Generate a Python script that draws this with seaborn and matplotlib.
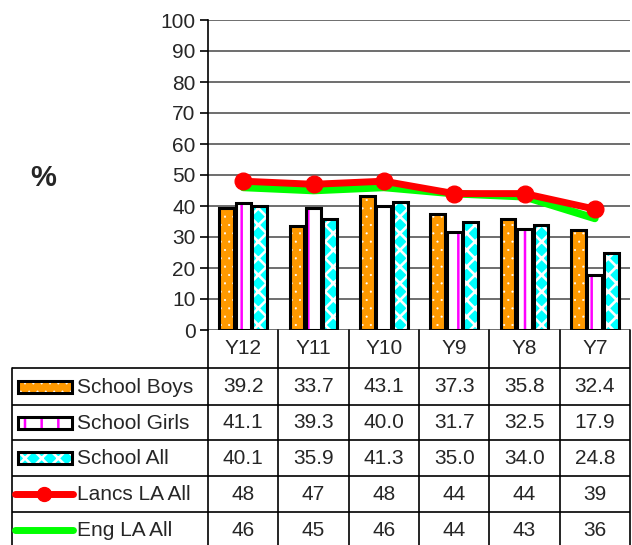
import numpy as np
import pandas as pd
import matplotlib
matplotlib.use("Agg")
import matplotlib.pyplot as plt
from matplotlib.patches import Rectangle
from matplotlib.lines import Line2D
import seaborn as sns

# Data
years = ["Y12", "Y11", "Y10", "Y9", "Y8", "Y7"]
school_boys = [39.2, 33.7, 43.1, 37.3, 35.8, 32.4]
school_girls = [41.1, 39.3, 40.0, 31.7, 32.5, 17.9]
school_all = [40.1, 35.9, 41.3, 35.0, 34.0, 24.8]
lancs_la_all = [48, 47, 48, 44, 44, 39]
eng_la_all = [46, 45, 46, 44, 43, 36]

bar_names = ["School Boys", "School Girls", "School All"]
line_names = ["Lancs LA All", "Eng LA All"]

sns.set_style("white")
plt.rcParams["font.family"] = ["Liberation Sans", "DejaVu Sans"]
plt.rcParams["hatch.linewidth"] = 1.5

# long-form table for seaborn
df = pd.DataFrame({
    "year": years * 3,
    "series": np.repeat(bar_names, len(years)),
    "value": school_boys + school_girls + school_all,
})

face = {"School Boys": "#FF9900", "School Girls": "#FFFFFF", "School All": "#00FFFF"}
hatch_col = {"School Boys": "#FFFFFF", "School Girls": "#FF00FF", "School All": "#FFFFFF"}
hatches = {"School Boys": "..", "School Girls": "|", "School All": "xx"}
hatch_lw = {"School Boys": 0.3, "School Girls": 1.8, "School All": 1.9}


def style_hatch(p, name):
    p.set_hatch(hatches[name])
    p.set_edgecolor(hatch_col[name])
    if hasattr(p, "set_hatch_linewidth"):
        p.set_hatch_linewidth(hatch_lw[name])


W, H = 632, 545
fig = plt.figure(figsize=(W / 100, H / 100), dpi=100)

# main chart area (pixel box 208..630 x 20..330)
ax = fig.add_axes([208 / W, (H - 330) / H, 422 / W, 310 / H])
sns.barplot(data=df, x="year", y="value", hue="series", order=years,
            hue_order=bar_names, palette=[face[n] for n in bar_names],
            saturation=1, width=0.7, gap=0.1, linewidth=0, legend=False, ax=ax)

n = len(years)
for i, name in enumerate(bar_names):
    for p in ax.patches[i * n:(i + 1) * n]:
        style_hatch(p, name)
        ax.add_patch(Rectangle(p.get_xy(), p.get_width(), p.get_height(),
                               fill=False, edgecolor="black", lw=2.2, zorder=3))

x = np.arange(n)
ax.plot(x, eng_la_all, color="#00FF00", lw=5.5, zorder=4, solid_capstyle="round")
ax.plot(x, lancs_la_all, color="#FF0000", lw=5, marker="o", ms=12, zorder=5,
        solid_capstyle="round")

ax.set_xlim(-0.5, n - 0.5)
ax.set_ylim(0, 100)
ax.set_yticks(range(0, 101, 10))
ax.yaxis.grid(True, color="#555555", lw=1.2)
ax.set_axisbelow(True)
ax.set_xticks([])
ax.set_xlabel("")
ax.set_ylabel("")
for s in ["top", "right", "bottom"]:
    ax.spines[s].set_visible(False)
ax.spines["left"].set_color("black")
ax.spines["left"].set_linewidth(1.2)
ax.tick_params(axis="y", labelsize=15, length=6, width=1.2, color="black",
               left=True, pad=3)

fig.text(43 / W, 1 - 178 / H, "%", fontsize=21, fontweight="bold",
         ha="center", va="center")

# data table under the chart, same x scale as the categories
unit = 422 / n
x_left = -0.5 - (208 - 12) / unit
tb = fig.add_axes([12 / W, 0, 618 / W, (H - 330) / H])
tb.set_xlim(x_left, n - 0.5)
tb.set_ylim(H, 330)
tb.axis("off")

row_edges = [330, 368, 405, 440, 476, 512, 548]
for k in range(n + 1):
    tb.plot([k - 0.5, k - 0.5], [330, 548], color="black", lw=1.2, clip_on=False)
tb.plot([x_left, x_left], [368, 548], color="black", lw=1.2, clip_on=False)
for y in row_edges[1:-1]:
    tb.plot([x_left, n - 0.5], [y, y], color="black", lw=1.2)

for k, yr in enumerate(years):
    tb.text(k, (row_edges[0] + row_edges[1]) / 2, yr, fontsize=15,
            ha="center", va="center")

rows = [
    ("School Boys", school_boys, "{:.1f}"),
    ("School Girls", school_girls, "{:.1f}"),
    ("School All", school_all, "{:.1f}"),
    ("Lancs LA All", lancs_la_all, "{:d}"),
    ("Eng LA All", eng_la_all, "{:d}"),
]
px = 1 / unit
for r, (name, vals, fmt) in enumerate(rows):
    yc = (row_edges[r + 1] + row_edges[r + 2]) / 2
    if name in face:
        sw = Rectangle((x_left + 6 * px, yc - 6), 54 * px, 12,
                       facecolor=face[name], lw=0)
        tb.add_patch(sw)
        style_hatch(sw, name)
        tb.add_patch(Rectangle((x_left + 6 * px, yc - 6), 54 * px, 12,
                               fill=False, edgecolor="black", lw=2.2))
    elif name == "Lancs LA All":
        tb.add_line(Line2D([x_left + 3 * px, x_left + 61 * px], [yc, yc],
                           color="#FF0000", lw=5, solid_capstyle="round"))
        tb.plot([x_left + 32 * px], [yc], "o", color="#FF0000", ms=10)
    else:
        tb.add_line(Line2D([x_left + 3 * px, x_left + 61 * px], [yc, yc],
                           color="#00FF00", lw=5, solid_capstyle="round"))
    tb.text(x_left + 65 * px, yc + 1, name, fontsize=15, ha="left", va="center")
    for k, v in enumerate(vals):
        tb.text(k, yc, fmt.format(v), fontsize=15, ha="center", va="center")

fig.savefig("out.png", dpi=100)
